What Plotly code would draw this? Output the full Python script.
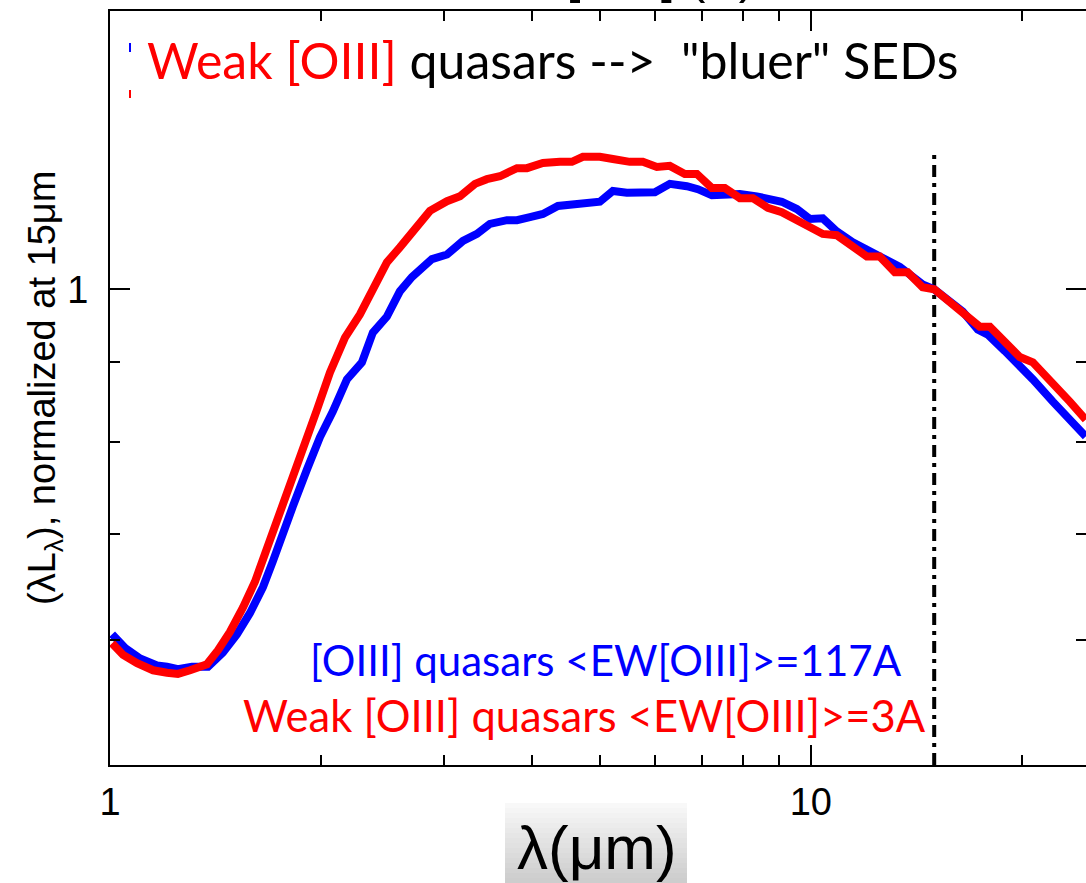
import plotly.graph_objects as go
import math

# ---------------- data ----------------
red_wav = [1.007, 1.044, 1.093, 1.152, 1.206, 1.250, 1.301, 1.375, 1.426, 1.483,
           1.548, 1.610, 1.664, 1.719, 1.806, 1.885, 1.974, 2.060, 2.164, 2.273,
           2.372, 2.484, 2.592, 2.653, 2.861, 3.026, 3.158, 3.317, 3.450, 3.601,
           3.808, 3.935, 4.147, 4.385, 4.561, 4.729, 5.000, 5.219, 5.518, 5.759,
           6.030, 6.293, 6.611, 6.877, 7.224, 7.539, 7.920, 8.266, 8.683, 9.091,
           9.551, 9.967, 10.40, 10.89, 11.48, 12.02, 12.54, 13.18, 13.75, 14.44,
           15.0, 15.89, 16.48, 17.42, 18.01, 18.92, 19.87, 20.74, 22.15, 23.42, 24.68]
red_lum = [0.597, 0.587, 0.580, 0.574, 0.572, 0.571, 0.574, 0.579, 0.591, 0.607,
           0.629, 0.653, 0.680, 0.707, 0.752, 0.793, 0.839, 0.886, 0.932, 0.964,
           1.000, 1.040, 1.063, 1.076, 1.121, 1.137, 1.145, 1.166, 1.174, 1.179,
           1.193, 1.193, 1.202, 1.204, 1.204, 1.213, 1.213, 1.209, 1.204, 1.204,
           1.195, 1.197, 1.183, 1.183, 1.159, 1.159, 1.142, 1.142, 1.126, 1.119,
           1.106, 1.092, 1.084, 1.082, 1.065, 1.049, 1.049, 1.025, 1.025, 1.003,
           1.000, 0.978, 0.968, 0.947, 0.947, 0.926, 0.906, 0.899, 0.873, 0.849, 0.827]

blue_wav = [1.007, 1.051, 1.104, 1.167, 1.206, 1.250, 1.309, 1.380, 1.449, 1.518,
            1.584, 1.653, 1.708, 1.748, 1.824, 1.910, 1.993, 2.080, 2.178, 2.288,
            2.372, 2.484, 2.592, 2.697, 2.880, 3.026, 3.189, 3.339, 3.484, 3.685,
            3.808, 3.974, 4.147, 4.357, 4.577, 4.808, 5.000, 5.219, 5.464, 5.991,
            6.293, 6.655, 6.900, 7.224, 7.539, 7.920, 8.375, 8.826, 9.091, 9.551,
            9.967, 10.40, 10.89, 11.48, 12.14, 12.67, 13.40, 13.84, 14.44, 15.0,
            15.79, 16.48, 17.31, 17.89, 18.92, 19.87, 20.74, 22.15, 23.42, 24.68]
blue_lum = [0.605, 0.593, 0.584, 0.578, 0.577, 0.575, 0.577, 0.577, 0.589, 0.605,
            0.624, 0.648, 0.673, 0.694, 0.729, 0.769, 0.806, 0.837, 0.877, 0.899,
            0.939, 0.961, 0.997, 1.018, 1.045, 1.052, 1.073, 1.084, 1.100, 1.106,
            1.106, 1.111, 1.116, 1.129, 1.131, 1.136, 1.136, 1.154, 1.151, 1.152,
            1.166, 1.162, 1.157, 1.147, 1.147, 1.149, 1.145, 1.139, 1.136, 1.124,
            1.108, 1.109, 1.088, 1.071, 1.057, 1.048, 1.033, 1.022, 1.007, 1.000,
            0.983, 0.968, 0.943, 0.936, 0.914, 0.892, 0.877, 0.849, 0.827, 0.807]

norm_wav = [15.0, 15.0]
norm_line = [0.5, 1.218]

x_range = [1.0, 24.7]
y_range = [0.5, 1.5]
x_major = [1, 10]
x_minor = [2, 3, 4, 5, 6, 7, 8, 9, 20]
y_major = [1]
y_minor = [0.6, 0.7, 0.8, 0.9]

# ---------------- figure ----------------
fig = go.Figure()
fig.add_trace(go.Scatter(x=norm_wav, y=norm_line, mode="lines",
                         line=dict(color="black", width=4, dash="12px,6px,4px,6px"),
                         showlegend=False, hoverinfo="skip"))
fig.add_trace(go.Scatter(x=blue_wav, y=blue_lum, mode="lines",
                         line=dict(color="#0000ff", width=8), showlegend=False))
fig.add_trace(go.Scatter(x=red_wav, y=red_lum, mode="lines",
                         line=dict(color="#ff0000", width=8), showlegend=False))

axis_common = dict(showline=True, linecolor="black", linewidth=2, mirror="allticks",
                   ticks="inside", tickcolor="black", tickwidth=2, ticklen=20,
                   showgrid=False, zeroline=False,
                   tickfont=dict(family="Liberation Sans", size=38, color="black"))

fig.update_xaxes(type="log", range=[math.log10(x_range[0]), math.log10(x_range[1])],
                 tickmode="array", tickvals=x_major, ticktext=[str(v) for v in x_major],
                 ticklabelstandoff=2,
                 minor=dict(tickmode="array", tickvals=x_minor, ticks="inside",
                            ticklen=10, tickwidth=2, tickcolor="black"),
                 **axis_common)
fig.update_yaxes(type="log", range=[math.log10(y_range[0]), math.log10(y_range[1])],
                 tickmode="array", tickvals=y_major, ticktext=[str(v) for v in y_major],
                 ticklabelstandoff=12,
                 minor=dict(tickmode="array", tickvals=y_minor, ticks="inside",
                            ticklen=10, tickwidth=2, tickcolor="black"),
                 **axis_common)

W, H = 1086, 883
L, R, T, B = 110, 0, 11, 118
pw, ph = W - L - R, H - T - B


def px(xp):
    return (xp - L) / pw


def py(yp):
    return (H - B - yp) / ph


shapes = []
# gradient box behind the x-axis label
n = 16
y_top, y_bot = 803, 883
for i in range(n):
    g = int(248 - (248 - 205) * i / (n - 1))
    shapes.append(dict(type="rect", xref="paper", yref="paper",
                       x0=px(505), x1=px(687),
                       y0=py(y_top + (y_bot - y_top) * (i + 1) / n),
                       y1=py(y_top + (y_bot - y_top) * i / n),
                       line=dict(width=0), fillcolor=f"rgb({g},{g},{g})", layer="below"))
# small legend line stubs (clipped legend)
shapes.append(dict(type="line", xref="paper", yref="paper", x0=px(130), x1=px(130),
                   y0=py(52), y1=py(43), line=dict(color="#0000ff", width=2)))
shapes.append(dict(type="line", xref="paper", yref="paper", x0=px(130), x1=px(130),
                   y0=py(98), y1=py(90), line=dict(color="#ff0000", width=2)))

ann_font = "Lato"
annotations = [
    dict(xref="paper", yref="paper", x=px(145), y=py(60), xanchor="left", yanchor="middle",
         text='<span style="color:#ff0000">Weak [OIII]</span> quasars -->  "bluer" SEDs',
         showarrow=False, font=dict(family=ann_font, size=50, color="black")),
    dict(xref="paper", yref="paper", x=px(308), y=py(660), xanchor="left", yanchor="middle",
         text="[OIII] quasars &lt;EW[OIII]&gt;=117A", showarrow=False,
         font=dict(family=ann_font, size=42, color="#0000ff")),
    dict(xref="paper", yref="paper", x=px(241), y=py(715), xanchor="left", yanchor="middle",
         text="Weak [OIII] quasars &lt;EW[OIII]&gt;=3A", showarrow=False,
         font=dict(family=ann_font, size=43.5, color="#ff0000")),
    dict(xref="paper", yref="paper", x=px(45), y=py(388), xanchor="center", yanchor="middle",
         text="(λL<sub>λ</sub>), normalized at 15μm", textangle=-90, showarrow=False,
         font=dict(family="Liberation Sans", size=38, color="black")),
    dict(xref="paper", yref="paper", x=px(597), y=py(847), xanchor="center", yanchor="middle",
         text="λ(μm)", showarrow=False,
         font=dict(family="Liberation Sans", size=62, color="black")),
    dict(xref="paper", yref="paper", x=px(757), y=py(6), xanchor="right", yanchor="bottom",
         text="EW[OIII] (Å)", showarrow=False,
         font=dict(family="Liberation Sans", size=50, color="black")),
]

fig.update_layout(width=W, height=H, margin=dict(l=L, r=R, t=T, b=B, autoexpand=False),
                  paper_bgcolor="white", plot_bgcolor="white",
                  shapes=shapes, annotations=annotations, showlegend=False)

fig.write_html("out.html")
